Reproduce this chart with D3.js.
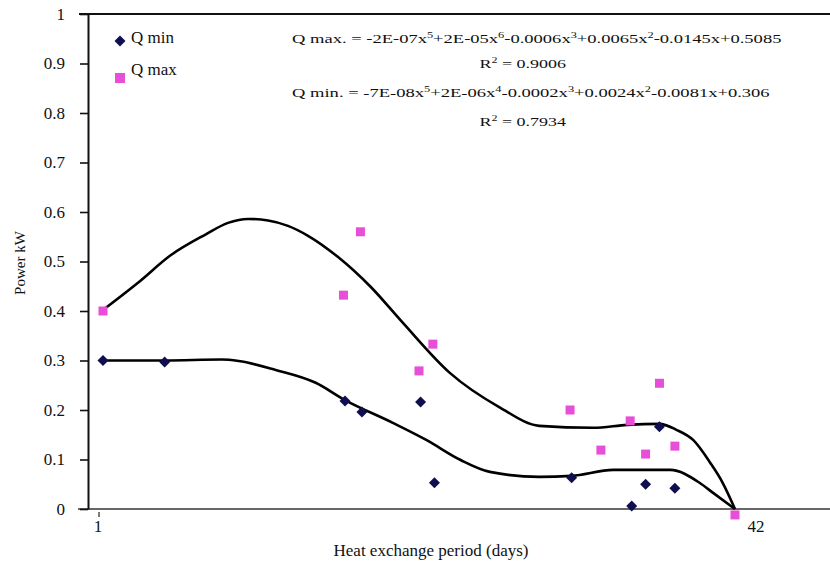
<!DOCTYPE html>
<html>
<head>
<meta charset="utf-8">
<script src="https://cdn.jsdelivr.net/npm/d3@7"></script>
<style>
  html, body { margin: 0; padding: 0; background: #fff; }
  svg { display: block; }
</style>
</head>
<body>
<svg id="chart" width="830" height="565" font-family="'Liberation Serif', 'Times New Roman', Times, serif"></svg>
<script>
// ---- data ----
const qminDays = [1, 5, 16.7, 17.8, 21.6, 22.5, 31.4, 35.3, 36.2, 37.1, 38.1];
const qminVals = [0.30, 0.297, 0.218, 0.196, 0.216, 0.053, 0.063, 0.006, 0.05, 0.166, 0.042];

const qmaxDays = [1, 16.6, 17.7, 21.5, 22.4, 31.3, 33.3, 35.2, 36.2, 37.1, 38.1, 42];
const qmaxVals = [0.40, 0.432, 0.56, 0.279, 0.333, 0.2, 0.119, 0.178, 0.111, 0.254, 0.127, -0.012];

// trend lines (polynomial fits)
const trendMaxDays = [1, 3.27, 5.41, 7.62, 9.11, 10.41, 11.71, 13.0, 14.3, 16.25, 18.39, 20.4, 23.5, 26.7, 29.3, 32.8, 35.0, 37.1, 38.2, 39.3, 40.4, 41.2, 42];
const trendMaxVals = [0.402, 0.457, 0.513, 0.554, 0.578, 0.586, 0.583, 0.572, 0.552, 0.509, 0.448, 0.378, 0.275, 0.206, 0.168, 0.164, 0.17, 0.172, 0.16, 0.139, 0.093, 0.053, 0];

const trendMinDays = [1, 5.0, 8.7, 9.8, 12.2, 14.8, 16.7, 19.8, 22.0, 24.2, 26.1, 29.3, 31.4, 34.1, 37.8, 39.7, 40.6, 42];
const trendMinVals = [0.30, 0.30, 0.302, 0.299, 0.281, 0.255, 0.22, 0.174, 0.139, 0.099, 0.075, 0.065, 0.067, 0.079, 0.079, 0.053, 0.032, 0];

const yTicks = [0, 0.1, 0.2, 0.3, 0.4, 0.5, 0.6, 0.7, 0.8, 0.9, 1];
const xTickLabels = [1, 42];
const seriesNames = ["Q min", "Q max"];

const eqMax = [["Q max. = -2E-07x"], ["5", 1], ["+2E-05x"], ["6", 1], ["-0.0006x"], ["3", 1], ["+0.0065x"], ["2", 1], ["-0.0145x+0.5085"]];
const r2Max = [["R"], ["2", 1], [" = 0.9006"]];
const eqMin = [["Q min. = -7E-08x"], ["5", 1], ["+2E-06x"], ["4", 1], ["-0.0002x"], ["3", 1], ["+0.0024x"], ["2", 1], ["-0.0081x+0.306"]];
const r2Min = [["R"], ["2", 1], [" = 0.7934"]];

// ---- drawing ----
const FONT = "'Liberation Serif', 'Times New Roman', Times, serif";
const svg = d3.select("#chart");
const x = d3.scaleLinear().domain([1, 42]).range([103, 735]);
const y = d3.scaleLinear().domain([0, 1]).range([509, 14]);

const navy = "#0f0f4f";
const pink = "#e84fd8";
const ink = "#111";

// top border line
svg.append("line").attr("x1", 79).attr("x2", 830).attr("y1", y(1)).attr("y2", y(1))
  .attr("stroke", ink).attr("stroke-width", 2);
// x axis line
svg.append("line").attr("x1", 78).attr("x2", 830).attr("y1", y(0)).attr("y2", y(0))
  .attr("stroke", "#333").attr("stroke-width", 1.6);

// y axis
const yAxis = svg.append("g").attr("transform", "translate(88,0)")
  .call(d3.axisLeft(y).tickValues(yTicks).tickFormat(d => String(+d.toFixed(1))).tickSize(8).tickSizeOuter(0).tickPadding(15));
yAxis.attr("font-family", FONT).attr("font-size", 17);
yAxis.select(".domain").attr("stroke", ink).attr("stroke-width", 2);
yAxis.selectAll(".tick line").attr("stroke", ink).attr("stroke-width", 1.6);
yAxis.selectAll(".tick text").attr("fill", ink).attr("font-family", FONT).attr("font-size", 17);

// x tick labels
const xLabOffset = {1: -5, 42: 21};
svg.selectAll(".xlab").data(xTickLabels).enter().append("text")
  .attr("x", d => x(d) + xLabOffset[d]).attr("y", 532).attr("fill", ink)
  .attr("text-anchor", "middle").attr("font-family", FONT).attr("font-size", 17).text(d => d);
svg.append("line").attr("x1", x(1) - 4).attr("x2", x(1) - 4).attr("y1", 512).attr("y2", 517)
  .attr("stroke", "#222").attr("stroke-width", 1.2);

// axis titles
svg.append("text").attr("x", 431).attr("y", 556).attr("text-anchor", "middle").attr("fill", ink)
  .attr("font-family", FONT).attr("font-size", 17).text("Heat exchange period (days)");
svg.append("text").attr("transform", "translate(25,263) rotate(-90)").attr("text-anchor", "middle").attr("fill", ink)
  .attr("font-family", FONT).attr("font-size", 15).text("Power kW");

// trend lines
const line = d3.line().x(d => x(d[0])).y(d => y(d[1])).curve(d3.curveMonotoneX);
svg.append("path").datum(d3.zip(trendMaxDays, trendMaxVals)).attr("d", line)
  .attr("fill", "none").attr("stroke", "#000").attr("stroke-width", 2.6);
svg.append("path").datum(d3.zip(trendMinDays, trendMinVals)).attr("d", line)
  .attr("fill", "none").attr("stroke", "#000").attr("stroke-width", 2.6);

// markers
const diamond = r => `M0,${-r}L${r},0L0,${r}L${-r},0Z`;
svg.selectAll(".qmin").data(d3.zip(qminDays, qminVals)).enter().append("path")
  .attr("d", diamond(5.5)).attr("transform", d => `translate(${x(d[0])},${y(d[1])})`)
  .attr("fill", navy);
svg.selectAll(".qmax").data(d3.zip(qmaxDays, qmaxVals)).enter().append("rect")
  .attr("x", d => x(d[0]) - 4.5).attr("y", d => y(d[1]) - 4.5).attr("width", 9).attr("height", 9)
  .attr("fill", pink);

// legend
svg.append("path").attr("d", diamond(5.5)).attr("transform", "translate(120,41)").attr("fill", navy);
svg.append("rect").attr("x", 115).attr("y", 73).attr("width", 10).attr("height", 10).attr("fill", pink);
svg.append("text").attr("x", 131).attr("y", 43).attr("fill", ink).attr("font-family", FONT).attr("font-size", 17).text(seriesNames[0]);
svg.append("text").attr("x", 131).attr("y", 75).attr("fill", ink).attr("font-family", FONT).attr("font-size", 17).text(seriesNames[1]);

// equations
function eq(parts, xPos, yPos, targetW, anchor) {
  const t = svg.append("text").attr("x", 0).attr("y", 0).attr("fill", ink)
    .attr("font-family", FONT).attr("font-size", 13.5);
  let raised = false;
  parts.forEach(p => {
    const ts = t.append("tspan").text(p[0]);
    if (p[1]) { ts.attr("font-size", 9).attr("dy", -5); raised = true; }
    else if (raised) { ts.attr("dy", 5); raised = false; }
  });
  const w = t.node().getBBox().width;
  const s = targetW / w;
  const x0 = anchor === "middle" ? xPos - targetW / 2 : xPos;
  t.attr("transform", `translate(${x0},${yPos}) scale(${s},1)`);
}
eq(eqMax, 292, 43, 490, "start");
eq(r2Max, 523, 68, 87, "middle");
eq(eqMin, 292, 97, 478, "start");
eq(r2Min, 523, 126, 87, "middle");
</script>
</body>
</html>
